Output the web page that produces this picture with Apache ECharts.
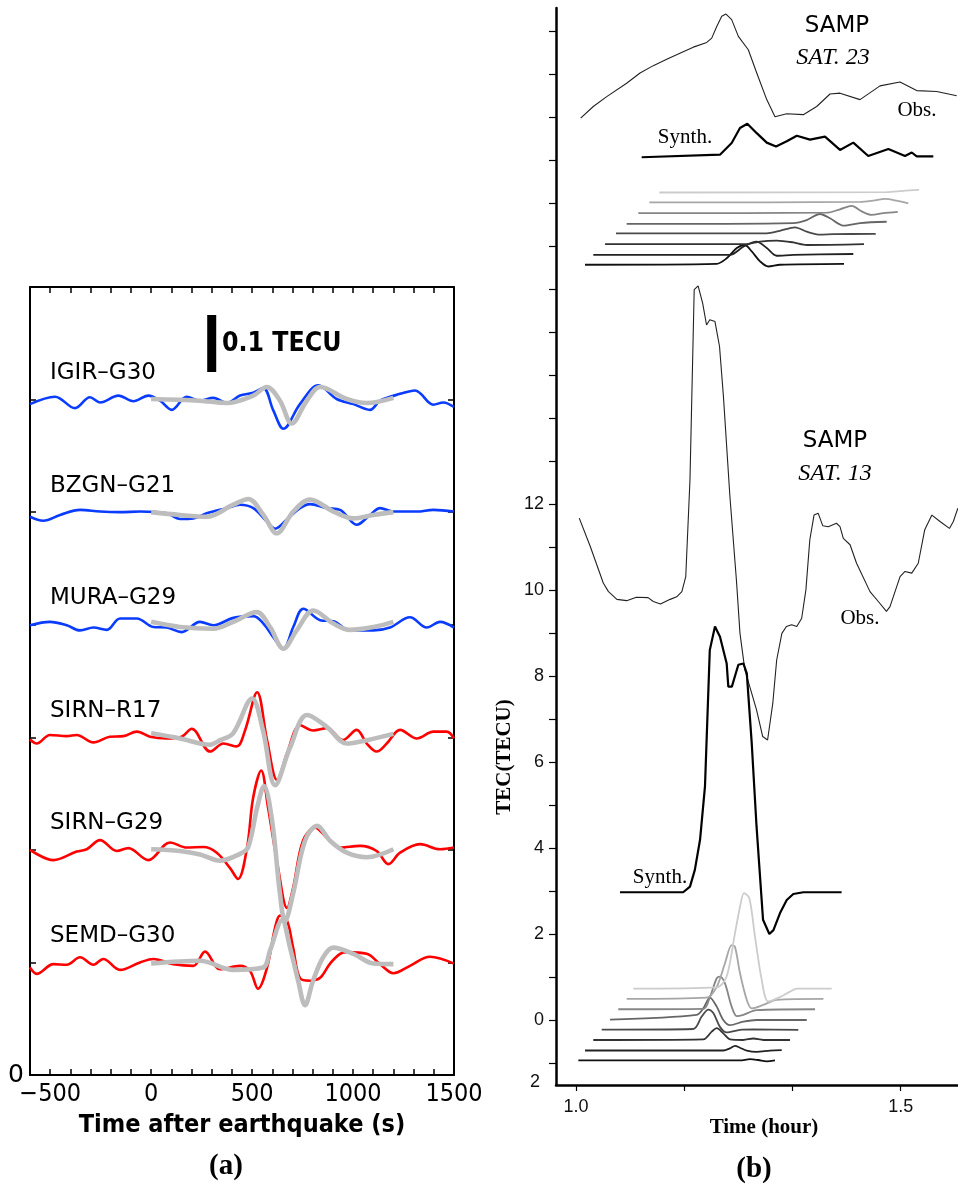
<!DOCTYPE html>
<html><head><meta charset="utf-8">
<script src="https://cdn.jsdelivr.net/npm/echarts@6/dist/echarts.min.js"></script>
<style>html,body{margin:0;padding:0;background:#fff}#c{width:958px;height:1188px}</style>
</head><body><div id="c"></div>
<script>
// ---------------- Panel (a): dTEC traces (time s, dTEC in TECU) ----------------
const stationNames = ['IGIR–G30','BZGN–G21','MURA–G29','SIRN–R17','SIRN–G29','SEMD–G30'];
const stationBase = [6,5,4,3,2,1];
const timeTicksA = [-500,0,500,1000,1500];

const igirObs = [[-600,-0.008],[-476,0.005],[-377,-0.015],[-303,0.004],[-253,-0.005],[-162,0.007],[-88,-0.003],[-14,0.007],[44,-0.002],[102,-0.018],[176,0.005],[242,-0.002],[308,0.003],[374,-0.006],[440,0.007],[506,0.012],[556,0.020],[605,-0.019],[655,-0.051],[737,-0.008],[828,0.025],[919,0.001],[1002,-0.008],[1084,-0.018],[1134,-0.002],[1233,0.010],[1307,0.016],[1398,-0.009],[1447,-0.005],[1500,-0.013]];
const igirSyn = [[0,0.001],[242,-0.002],[374,-0.006],[506,0.007],[572,0.022],[638,-0.002],[696,-0.042],[771,-0.002],[837,0.022],[969,0.001],[1068,-0.006],[1200,0.003]];
const bzgnObs = [[-600,-0.008],[-534,-0.015],[-451,-0.005],[-352,0.004],[-253,0.001],[-154,0],[-55,0.001],[77,-0.002],[143,-0.012],[209,-0.011],[275,-0.002],[374,0.007],[440,0.013],[506,0.007],[572,-0.016],[614,-0.029],[672,-0.013],[737,0.007],[787,0.014],[870,0.007],[936,0.004],[1018,-0.022],[1084,-0.005],[1134,0.007],[1200,0.001],[1316,0.001],[1398,0.004],[1500,0.001]];
const bzgnSyn = [[0,0],[143,-0.005],[275,-0.008],[407,0.013],[481,0.023],[556,-0.005],[622,-0.037],[704,0.001],[787,0.022],[903,0.001],[1002,-0.011],[1101,-0.005],[1200,0]];
const muraObs = [[-600,-0.001],[-501,0.005],[-418,-0.001],[-352,-0.010],[-286,-0.005],[-220,-0.009],[-154,0.011],[-71,0.011],[11,-0.004],[77,-0.005],[151,-0.013],[242,0.005],[308,-0.001],[407,0.012],[506,0.015],[556,0.002],[605,-0.022],[655,-0.042],[704,-0.004],[754,0.028],[837,0.008],[903,0.006],[985,-0.010],[1101,-0.010],[1183,-0.005],[1282,0.013],[1365,-0.005],[1431,0.005],[1500,-0.005]];
const muraSyn = [[0,0.005],[143,-0.004],[308,-0.007],[407,0.005],[523,0.022],[589,-0.004],[655,-0.042],[721,-0.010],[803,0.025],[903,0.002],[985,-0.009],[1101,-0.004],[1200,0.005]];
const r17Obs = [[-600,-0.004],[-567,-0.011],[-501,0.004],[-418,0.002],[-369,0.004],[-286,-0.009],[-204,0.001],[-138,0.002],[-71,0.010],[-5,0.001],[77,-0.002],[151,0.001],[201,0.015],[292,-0.025],[358,-0.011],[424,-0.016],[465,0.012],[525,0.079],[574,-0.005],[624,-0.075],[673,-0.028],[738,0.021],[802,0.012],[871,0.016],[950,-0.005],[1018,0.013],[1068,-0.011],[1117,-0.025],[1167,-0.011],[1233,0.013],[1316,-0.002],[1398,0.010],[1464,0.010],[1500,-0.002]];
const r17Syn = [[0,0.007],[143,-0.002],[292,-0.013],[342,-0.005],[406,0.007],[500,0.068],[554,0.012],[614,-0.084],[688,-0.018],[772,0.039],[871,0.018],[969,-0.011],[1068,-0.005],[1200,0.006]];
const g29Obs = [[-600,0],[-484,-0.018],[-369,-0.003],[-319,0.001],[-253,0.017],[-170,-0.002],[-113,0.003],[-14,-0.018],[94,0.013],[176,0.004],[259,0.005],[325,-0.005],[391,-0.032],[430,-0.051],[475,0.004],[505,0.091],[545,0.139],[579,0.074],[629,-0.032],[673,-0.102],[703,-0.067],[752,0.016],[812,0.039],[871,0.021],[936,0.004],[1035,0.007],[1117,-0.002],[1175,-0.025],[1233,-0.005],[1332,0.010],[1431,0.001],[1500,0.004]];
const g29Syn = [[0,0.001],[143,-0.002],[242,-0.008],[341,-0.019],[440,-0.007],[480,0.004],[525,0.074],[559,0.112],[599,0.051],[638,-0.077],[663,-0.125],[703,-0.077],[762,0.016],[822,0.042],[886,0.016],[969,-0.005],[1068,-0.013],[1200,0.001]];
const semdObs = [[-600,-0.009],[-567,-0.020],[-484,-0.003],[-418,-0.004],[-352,0.009],[-286,-0.004],[-237,0.006],[-154,-0.013],[-55,0],[11,0.006],[110,-0.003],[209,-0.006],[267,0.019],[341,-0.012],[440,-0.006],[490,-0.015],[529,-0.046],[574,-0.009],[614,0.061],[638,0.082],[673,0.073],[703,0.026],[738,-0.028],[787,-0.032],[837,-0.027],[886,-0.002],[936,0.015],[969,0.018],[1068,0.015],[1134,-0.003],[1200,-0.019],[1282,-0.006],[1381,0.010],[1500,-0.002]];
const semdSyn = [[0,-0.002],[242,0.003],[407,-0.013],[554,-0.009],[589,0.021],[648,0.074],[688,0.026],[728,-0.032],[762,-0.075],[802,-0.032],[852,0.009],[901,0.026],[1002,0.015],[1101,-0.002],[1200,-0.003]];
const obsTraces = [igirObs,bzgnObs,muraObs,r17Obs,g29Obs,semdObs];
const synTraces = [igirSyn,bzgnSyn,muraSyn,r17Syn,g29Syn,semdSyn];
const scaleBar = [[300,0],[300,0.1]]; // 0.1 TECU bar
const TRACE_SCALE = 5.07; // plot units per TECU

// ---------------- Panel (b): TEC (hour, TECU) ----------------
const hourTicks = [1, 1+1/6, 1+2/6, 1.5];
const hourLabels = [1.0, 1.5];
const tecTicks = [-1,0,1,2,3,4,5,6,7,8,9,10,11,12,13,14,15,16,17,18,19,20,21,22,23];
const tecLabels = [0,2,4,6,8,10,12];

const sat23Obs = [[1.0072,20.97],[1.0266,21.24],[1.0473,21.47],[1.078,21.78],[1.0986,22.02],[1.119,22.19],[1.1397,22.34],[1.160,22.48],[1.1806,22.62],[1.2013,22.73],[1.209,22.83],[1.2167,23.1],[1.2244,23.34],[1.231,23.39],[1.2397,23.26],[1.250,22.87],[1.2653,22.56],[1.2783,22.02],[1.2937,21.40],[1.3064,21.0],[1.3245,21.07],[1.350,21.05],[1.3706,21.24],[1.3911,21.53],[1.4065,21.55],[1.4373,21.40],[1.4681,21.72],[1.4989,21.81],[1.5246,21.61],[1.5554,21.59],[1.5862,21.49]];
const sat23Syn = [[1.1011,20.06],[1.2217,20.12],[1.2397,20.39],[1.2525,20.74],[1.2638,20.84],[1.2783,20.62],[1.2937,20.40],[1.308,20.31],[1.3245,20.43],[1.340,20.56],[1.3603,20.47],[1.3834,20.54],[1.4065,20.23],[1.427,20.40],[1.450,20.09],[1.481,20.25],[1.5066,20.09],[1.517,20.17],[1.5246,20.08],[1.5502,20.08]];
const s23L1 = [[1.0139,17.56],[1.2167,17.58],[1.232,17.71],[1.2475,17.95],[1.260,18.02],[1.2706,17.87],[1.2833,17.64],[1.296,17.52],[1.314,17.56],[1.4127,17.58]];
const s23L2 = [[1.0266,17.79],[1.237,17.79],[1.2576,17.98],[1.278,18.1],[1.2937,17.95],[1.309,17.77],[1.3346,17.79],[1.427,17.81]];
const s23L3 = [[1.0447,18.04],[1.2629,18.04],[1.2833,18.1],[1.309,18.12],[1.3346,18.08],[1.3553,18.02],[1.4435,18.04]];
const s23L4 = [[1.0616,18.29],[1.2937,18.29],[1.314,18.35],[1.3372,18.43],[1.3553,18.33],[1.3757,18.26],[1.3962,18.27],[1.4615,18.28]];
const s23L5 = [[1.0781,18.51],[1.3346,18.53],[1.3553,18.60],[1.3757,18.74],[1.3911,18.64],[1.4116,18.47],[1.4373,18.53],[1.4784,18.56]];
const s23L6 = [[1.0959,18.76],[1.386,18.77],[1.4065,18.85],[1.4245,18.93],[1.440,18.80],[1.4553,18.72],[1.4732,18.76],[1.4954,18.79]];
const s23L7 = [[1.1129,19.01],[1.4373,19.02],[1.4578,19.05],[1.4758,19.09],[1.4938,19.05],[1.5117,18.99]];
const s23L8 = [[1.1283,19.24],[1.4784,19.25],[1.504,19.28],[1.5282,19.30]];

const sat13Obs = [[1.005,11.67],[1.022,11.01],[1.042,10.16],[1.050,9.96],[1.063,9.78],[1.078,9.75],[1.093,9.83],[1.111,9.82],[1.119,9.73],[1.130,9.67],[1.145,9.78],[1.155,9.84],[1.163,9.96],[1.169,10.31],[1.1755,12.56],[1.182,16.98],[1.188,17.07],[1.195,16.67],[1.201,16.16],[1.206,16.28],[1.214,16.24],[1.221,15.66],[1.227,14.5],[1.237,12.17],[1.247,10.23],[1.2525,8.99],[1.260,8.14],[1.278,7.21],[1.2875,6.59],[1.295,6.51],[1.303,7.36],[1.309,8.37],[1.317,8.99],[1.324,9.15],[1.332,9.19],[1.340,9.15],[1.3475,9.34],[1.354,10.0],[1.360,11.16],[1.3665,11.74],[1.373,11.78],[1.380,11.49],[1.3885,11.47],[1.401,11.55],[1.4065,11.47],[1.4116,11.2],[1.422,11.05],[1.432,10.62],[1.4527,9.96],[1.4655,9.73],[1.478,9.50],[1.4835,9.61],[1.499,10.31],[1.5066,10.43],[1.517,10.39],[1.527,10.62],[1.537,11.4],[1.548,11.74],[1.5605,11.59],[1.575,11.43],[1.581,11.59],[1.588,11.9]];
const sat13Syn = [[1.0678,2.97],[1.165,2.97],[1.1755,3.10],[1.183,3.49],[1.191,4.19],[1.1986,5.43],[1.206,8.6],[1.214,9.15],[1.2217,8.91],[1.232,8.29],[1.2345,7.75],[1.240,7.75],[1.250,8.26],[1.2577,8.29],[1.263,8.06],[1.2706,6.43],[1.278,4.50],[1.288,2.33],[1.2977,2.0],[1.304,2.09],[1.314,2.48],[1.3245,2.79],[1.3346,2.93],[1.35,2.97],[1.409,2.97]];
const s13L1 = [[1.0036,-0.94],[1.2525,-0.94],[1.268,-0.91],[1.2807,-0.93],[1.2937,-0.96],[1.3064,-0.94]];
const s13L2 = [[1.0139,-0.71],[1.2268,-0.71],[1.237,-0.66],[1.2448,-0.60],[1.2525,-0.645],[1.2629,-0.71],[1.278,-0.74],[1.2987,-0.71],[1.3168,-0.70]];
const s13L3 = [[1.0266,-0.465],[1.196,-0.45],[1.209,-0.27],[1.2167,-0.19],[1.2268,-0.31],[1.237,-0.45],[1.2576,-0.465],[1.273,-0.43],[1.2884,-0.465],[1.3295,-0.465]];
const s13L4 = [[1.0396,-0.225],[1.1806,-0.21],[1.1935,0.08],[1.2037,0.24],[1.2114,0.16],[1.2217,-0.16],[1.232,-0.29],[1.2525,-0.23],[1.273,-0.22],[1.3423,-0.23]];
const s13L5 = [[1.0524,0.01],[1.1858,0.12],[1.196,0.27],[1.2063,0.52],[1.2167,0.31],[1.2268,0],[1.237,-0.12],[1.2576,-0.04],[1.2783,0],[1.3553,0]];
const s13L6 = [[1.0651,0.25],[1.196,0.26],[1.2063,0.54],[1.2167,0.97],[1.2217,1.01],[1.2294,0.85],[1.2397,0.31],[1.2475,0.09],[1.2576,0.12],[1.278,0.23],[1.368,0.25]];
const s13L7 = [[1.078,0.49],[1.2013,0.52],[1.2167,0.77],[1.2294,1.32],[1.2397,1.74],[1.2448,1.70],[1.2525,1.09],[1.2629,0.47],[1.2706,0.27],[1.2884,0.35],[1.309,0.47],[1.381,0.49]];
const s13L8 = [[1.0883,0.73],[1.2167,0.76],[1.232,1.01],[1.2448,2.02],[1.2536,2.71],[1.2587,2.95],[1.2669,2.83],[1.2756,1.94],[1.286,0.93],[1.296,0.43],[1.314,0.53],[1.3295,0.66],[1.34,0.73],[1.3937,0.73]];
const stackGrays = ['#111111','#222222','#333333','#4a4a4a','#666666','#868686','#a6a6a6','#cccccc'];
const sat23Stack = [s23L1,s23L2,s23L3,s23L4,s23L5,s23L6,s23L7,s23L8];
const sat13Stack = [s13L1,s13L2,s13L3,s13L4,s13L5,s13L6,s13L7,s13L8];

// ---------------- build ----------------
const BLUE = '#0a3cff', RED = '#ff0000', GRAYSYN = '#bdbdbd';
const obsColors = [BLUE,BLUE,BLUE,RED,RED,RED];
const SANS = "'DejaVu Sans'";
const SERIF = "'Liberation Serif'";
const HELV = "'Liberation Sans'";

const series = [];
obsTraces.forEach((tr, i) => {
  series.push({type:'line', xAxisIndex:0, yAxisIndex:0, symbol:'none', smooth:0.35,
    lineStyle:{color:obsColors[i], width:2.6}, data: tr.map(d => [d[0], stationBase[i] + d[1]*TRACE_SCALE])});
});
synTraces.forEach((tr, i) => {
  series.push({type:'line', xAxisIndex:0, yAxisIndex:0, symbol:'none', smooth:0.35,
    lineStyle:{color:GRAYSYN, width:4.6}, data: tr.map(d => [d[0], stationBase[i] + d[1]*TRACE_SCALE])});
});
series.push({type:'line', xAxisIndex:0, yAxisIndex:0, symbol:'none',
  lineStyle:{color:'#000', width:9, cap:'butt'}, data: scaleBar.map(d => [d[0], 6.245 + d[1]*TRACE_SCALE])});

function addB(data, color, width, smooth){
  series.push({type:'line', xAxisIndex:2, yAxisIndex:2, symbol:'none', smooth:smooth,
    lineStyle:{color:color, width:width}, data:data});
}
sat23Stack.forEach((d,i)=>addB(d, stackGrays[i], 1.8, 0.3));
sat13Stack.forEach((d,i)=>addB(d, stackGrays[i], 1.8, 0.3));
addB(sat23Obs, '#222', 1.1, false);
addB(sat23Syn, '#000', 2.2, false);
addB(sat13Obs, '#222', 1.1, false);
addB(sat13Syn, '#000', 2.2, false);

const axA = {type:'value', min:-600, max:1500, interval:100, splitLine:{show:false},
  axisLine:{show:true, onZero:false, lineStyle:{color:'#000', width:2}},
  axisTick:{show:true, inside:true, length:6, lineStyle:{color:'#000', width:1.5}}};
const ayA = {type:'value', min:0, max:7, interval:1, splitLine:{show:false},
  axisLine:{show:true, onZero:false, lineStyle:{color:'#000', width:2}},
  axisTick:{show:true, inside:true, length:6, lineStyle:{color:'#000', width:1.5}}};

const option = {
  animation:false,
  backgroundColor:'#ffffff',
  grid:[{left:30, top:287, width:424, height:788}, {left:556, top:8, width:402, height:1077}],
  xAxis:[
    Object.assign({}, axA, {gridIndex:0, position:'bottom',
      axisLabel:{show:true, margin:7, color:'#000', fontSize:25, fontFamily:"'DejaVu Sans Condensed','DejaVu Sans'",
        formatter: v => timeTicksA.indexOf(v) >= 0 ? (v < 0 ? '−' + (-v) : String(v)) : ''}}),
    Object.assign({}, axA, {gridIndex:0, position:'top', axisLabel:{show:false}}),
    {gridIndex:1, type:'value', position:'bottom', min:0.9692, max:1.5882, splitLine:{show:false},
      axisLine:{show:true, onZero:false, lineStyle:{color:'#000', width:2.5}},
      axisTick:{show:true, customValues:hourTicks, length:6, lineStyle:{color:'#000', width:1.2}},
      axisLabel:{show:true, customValues:hourLabels, margin:13, color:'#111', fontSize:18, fontFamily:HELV,
        formatter: v => Number(v).toFixed(1)}}
  ],
  yAxis:[
    Object.assign({}, ayA, {gridIndex:0, position:'left',
      axisLabel:{show:true, margin:6, color:'#000', fontSize:25, fontFamily:SANS, formatter: v => v === 0 ? '0' : ''}}),
    Object.assign({}, ayA, {gridIndex:0, position:'right', axisLabel:{show:false}}),
    {gridIndex:1, type:'value', position:'left', min:-1.5116, max:23.53, splitLine:{show:false},
      axisLine:{show:true, onZero:false, lineStyle:{color:'#000', width:2.5}},
      axisTick:{show:true, customValues:tecTicks, length:7, lineStyle:{color:'#000', width:1.2}},
      axisLabel:{show:true, customValues:tecLabels, margin:12, color:'#111', fontSize:18, fontFamily:HELV,
        formatter: v => String(Math.round(v))}}
  ],
  series: series,
  graphic: []
};

function txt(text, x, y, font, opts){
  const o = Object.assign({align:'center', vAlign:'middle', fill:'#000', rotation:0, scaleX:1}, opts||{});
  return {type:'text', x:x, y:y, rotation:o.rotation, scaleX:o.scaleX, silent:true, z:100,
    style:{text:text, font:font, fill:o.fill, align:o.align, verticalAlign:o.vAlign, textAlign:o.align, textVerticalAlign:o.vAlign}};
}
const g = option.graphic;
const labelY = [373,486,598,711,823,936];
stationNames.forEach((n,i)=>g.push(txt(n, 50, labelY[i], "23px " + SANS, {align:'left'})));
g.push(txt('0.1 TECU', 222, 344, "bold 27px " + SANS, {align:'left', scaleX:0.88}));
g.push(txt('Time after earthquake (s)', 242, 1125, "bold 25px " + SANS, {scaleX:0.9}));
g.push(txt('(a)', 226, 1167, "bold 29px " + SERIF));
g.push(txt('(b)', 754, 1170, "bold 29px " + SERIF));
g.push(txt('Time (hour)', 764, 1128, "bold 21px " + SERIF));
g.push(txt('TEC(TECU)', 505, 757, "bold 21px " + SERIF, {rotation:Math.PI/2}));
g.push(txt('2', 535, 1082, "18px " + HELV, {fill:'#111'}));
g.push(txt('SAMP', 837, 26, "23px " + SANS));
g.push(txt('SAT. 23', 833, 58, "italic 24px " + SERIF));
g.push(txt('Obs.', 917, 110, "21px " + SERIF));
g.push(txt('Synth.', 685, 137, "21px " + SERIF));
g.push(txt('SAMP', 835, 441, "23px " + SANS));
g.push(txt('SAT. 13', 835, 474, "italic 24px " + SERIF));
g.push(txt('Obs.', 860, 618, "21px " + SERIF));
g.push(txt('Synth.', 660, 877, "21px " + SERIF));

const chart = echarts.init(document.getElementById('c'), null, {renderer:'canvas', width:958, height:1188});
chart.setOption(option);
</script></body></html>
